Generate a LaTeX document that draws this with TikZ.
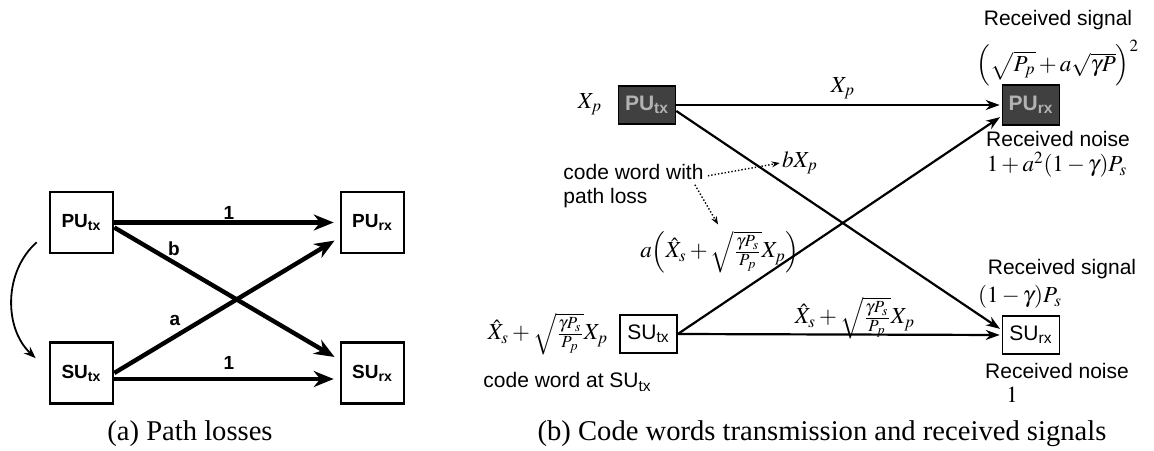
\documentclass[tikz,border=0pt]{standalone}
\usepackage{mathptmx}
\usepackage{fontspec}
\setmainfont{Liberation Serif}
\setsansfont{Liberation Sans}
\usetikzlibrary{arrows.meta}
\tikzset{
	box/.style = {rectangle, draw = black, line width = 1.3pt, minimum width = 31.5pt, minimum height = 30.5pt, inner sep = 0pt, font = \sffamily\bfseries\fontsize{9.5}{10}\selectfont},
	sbox/.style = {rectangle, draw = black, line width = 0.8pt, minimum width = 28.5pt, minimum height = 19pt, inner sep = 0pt, font = \sffamily\fontsize{10.5}{12}\selectfont},
	dbox/.style = {sbox, fill = black!75, text = black!30, font = \sffamily\bfseries\fontsize{10.5}{12}\selectfont},
	lbl/.style = {font = \sffamily\bfseries\fontsize{9.5}{10}\selectfont, inner sep = 1pt},
	txt/.style = {font = \sffamily\fontsize{10.5}{12}\selectfont, inner sep = 0pt},
	mth/.style = {font = \fontsize{11.5}{13}\selectfont, inner sep = 0pt},
	captxt/.style = {font = \fontsize{14.3}{16}\selectfont, inner sep = 0pt},
	thickarrow/.style = {-{Stealth[length = 10pt, width = 8pt]}, line width = 2.2pt, shorten > = 3pt},
	arrow/.style = {-{Stealth[length = 7pt, width = 5pt]}, line width = 1.1pt, shorten > = 1pt},
	note/.style = {-{Stealth[length = 4pt, width = 3pt]}, densely dotted, line width = 0.7pt}
}

\begin{document}
\begin{tikzpicture}[x = 0.5pt, y = 0.5pt]
	\useasboundingbox (0,0) rectangle (1154,450);
	
	%% (a) path losses
	\node (putx) [box] at (81.5,227.5) {PU\textsubscript{tx}};
	\node (purx) [box] at (372.5,227.5) {PU\textsubscript{rx}};
	\node (sutx) [box] at (81.5,77) {SU\textsubscript{tx}};
	\node (surx) [box] at (372.5,77) {SU\textsubscript{rx}};
	
	\draw [thickarrow] (putx.east) -- (purx.west);
	\draw [thickarrow] ([yshift = -2.5pt]putx.east) -- ([yshift = 6.5pt]surx.west);
	\draw [thickarrow] (sutx.east) -- ([yshift = -7.5pt]purx.west);
	\draw [thickarrow] ([yshift = -3pt]sutx.east) -- ([yshift = -3pt]surx.west);
	\draw [-{Stealth[length = 6pt, width = 4.5pt]}, line width = 0.9pt] ([shift = {(-6pt,6pt)}]putx.south west) .. controls +(-16.5pt,-14.5pt) and +(-16pt,15pt) .. ([shift = {(-6.5pt,-8.5pt)}]sutx.north west);
	
	\node (l1) [lbl] at (229,237) {1};
	\node (lb) [lbl] at (174,201) {b};
	\node (la) [lbl] at (175,130) {a};
	\node (l2) [lbl] at (229,87) {1};
	
	\node (capa) [captxt] at (190,16) {(a) Path losses};
	
	%% (b) code words and received signals
	\node (rputx) [dbox] at (647,345) {PU\textsubscript{tx}};
	\node (rpurx) [dbox, minimum height = 20pt] at (1031,345) {PU\textsubscript{rx}};
	\node (rsutx) [sbox] at (648.5,116) {SU\textsubscript{tx}};
	\node (rsurx) [sbox] at (1031,115) {SU\textsubscript{rx}};
	
	\draw [arrow] (rputx.east) -- (rpurx.west);
	\draw [arrow] ([yshift = -3pt]rputx.east) -- ([yshift = 2.5pt]rsurx.west);
	\draw [arrow] (rsutx.east) -- ([yshift = -5.5pt]rpurx.west);
	\draw [arrow] (rsutx.east) -- (rsurx.west);
	
	% transmitted code words
	\node (xp) [mth] at (590,346) {$X_p$};
	\node (xs) [mth] at (548,116) {$\hat{X}_s+\sqrt{\frac{\gamma P_s}{P_p}}X_p$};
	\node (cwsu) [txt, anchor = west] at (483,68) {code word at SU\textsubscript{tx}};
	
	% code words on the links
	\node (xpl) [mth] at (843,362) {$X_p$};
	\node (bxp) [mth] at (800,287) {$bX_p$};
	\node (axp) [mth] at (720,198) {$a\Bigl(\hat{X}_s+\sqrt{\frac{\gamma P_s}{P_p}}X_p\Bigr)$};
	\node (xsl) [mth] at (855,132) {$\hat{X}_s+\sqrt{\frac{\gamma P_s}{P_p}}X_p$};
	
	\node (cwpl) [txt, anchor = west, align = left] at (563,264) {code word with\\path loss};
	\draw [note] ([shift = {(2pt,-6pt)}]cwpl.north east) -- ([xshift = -1pt]bxp.west);
	\draw [note] ([shift = {(-4.5pt,-10.5pt)}]cwpl.north east) -- ([shift = {(-1pt,3pt)}]axp.north);
	
	% received at PU_rx
	\node (rs1) [txt] at (1058,430) {Received signal};
	\node (rsf1) [mth] at (1058,387) {$\Bigl(\sqrt{P_p}+a\sqrt{\gamma P}\Bigr)^{2}$};
	\node (rn1) [txt] at (1058,311) {Received noise};
	\node (rnf1) [mth] at (1057,285) {$1+a^{2}(1-\gamma)P_s$};
	
	% received at SU_rx
	\node (rs2) [txt] at (1062,181) {Received signal};
	\node (rsf2) [mth] at (1020,153) {$(1-\gamma)P_s$};
	\node (rn2) [txt] at (1057,79) {Received noise};
	\node (rnf2) [mth] at (1012,55) {$1$};
	
	\node (capb) [captxt] at (822,16) {(b) Code words transmission and received signals};
\end{tikzpicture}
\end{document}
